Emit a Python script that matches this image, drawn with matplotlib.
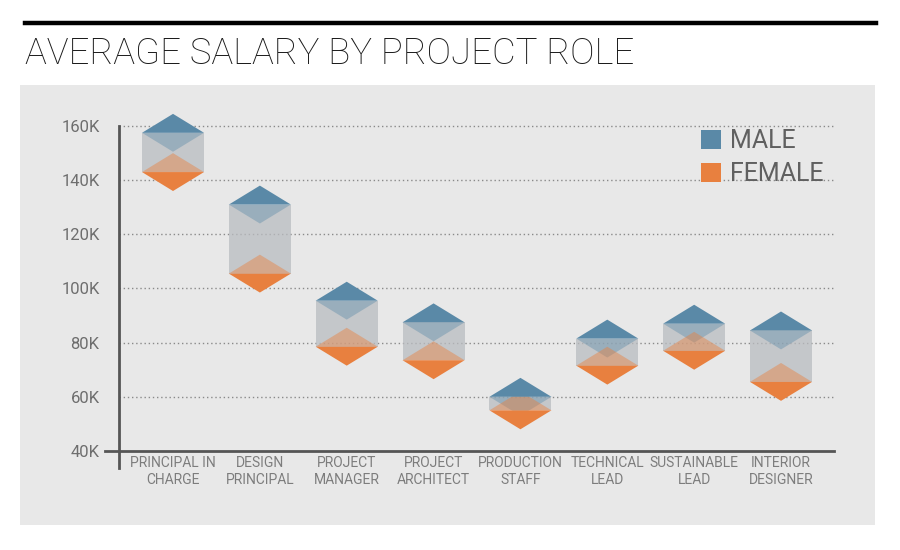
import matplotlib
matplotlib.use('Agg')
import matplotlib.pyplot as plt
from matplotlib.patches import Polygon, Rectangle, Patch
from matplotlib.lines import Line2D

roles = ['PRINCIPAL IN\nCHARGE', 'DESIGN\nPRINCIPAL', 'PROJECT\nMANAGER', 'PROJECT\nARCHITECT',
         'PRODUCTION\nSTAFF', 'TECHNICAL\nLEAD', 'SUSTAINABLE\nLEAD', 'INTERIOR\nDESIGNER']
male = [157.5, 131, 95.5, 87.5, 60, 81.5, 87, 84.5]
female = [143, 105.5, 78.5, 73.5, 55, 71.5, 77, 65.5]
yticks = [40, 60, 80, 100, 120, 140, 160]

blue = '#5a89a7'
orange = '#e8803f'
grey = '#b9bcc0'
font = ['Roboto', 'DejaVu Sans']

fig = plt.figure(figsize=(9, 5.5), dpi=100)
fig.patches.append(Rectangle((20/900, 1-525/550), 855/900, 440/550, transform=fig.transFigure,
                             facecolor='#e8e8e8', edgecolor='none', zorder=-5))
fig.lines.append(Line2D([25/900, 876/900], [1-23/550, 1-23/550], transform=fig.transFigure,
                        color='black', linewidth=3.2))
fig.text(25/900, 1-64/550, 'AVERAGE SALARY BY PROJECT ROLE', family=font, weight='light',
         fontsize=26.3, color='#1a1a1a', ha='left', va='baseline')

ax = fig.add_axes([105/900, 1-468/550, 729/900, 355.5/550])
ax.patch.set_alpha(0)
ax.set_xlim(-0.783, 7.61)
ax.set_ylim(33.7, 165)

# each role: blue diamond at male value, orange diamond at female value, grey box between
w = 0.357
h = 7
for i, (m, f) in enumerate(zip(male, female)):
    ax.add_patch(Rectangle((i - w, f), 2*w, m - f, facecolor=grey, alpha=0.75, edgecolor='none', zorder=3))
    ax.add_patch(Polygon([(i - w, m), (i + w, m), (i, m - h)], facecolor=blue, alpha=0.4, edgecolor='none', zorder=4))
    ax.add_patch(Polygon([(i - w, f), (i + w, f), (i, f + h)], facecolor=orange, alpha=0.45, edgecolor='none', zorder=4))
    ax.add_patch(Polygon([(i - w, m), (i + w, m), (i, m + h)], facecolor=blue, edgecolor='none', zorder=5, clip_on=False))
    ax.add_patch(Polygon([(i - w, f), (i + w, f), (i, f - h)], facecolor=orange, edgecolor='none', zorder=5))

ax.hlines(yticks[1:], -0.622, 7.61, colors='#8a8a8a', linestyles=(0, (1, 2)), linewidth=1, zorder=1)

for s in ['top', 'right']:
    ax.spines[s].set_visible(False)
ax.spines['left'].set_position(('data', -0.622))
ax.spines['left'].set_bounds(33.7, 160)
ax.spines['bottom'].set_position(('data', 40))
for s in ['left', 'bottom']:
    ax.spines[s].set_color('#555555')
    ax.spines[s].set_linewidth(2)

ax.set_yticks(yticks)
ax.set_yticklabels([f'{v}K' for v in yticks], family=font, fontsize=12, color='#6e6e6e')
ax.set_xticks(range(len(roles)))
ax.set_xticklabels(roles, family=font, fontsize=10, color='#7d7d7d', linespacing=1.25)
ax.tick_params(axis='y', length=0, pad=14)
ax.tick_params(axis='x', length=0, pad=4)

handles = [Patch(facecolor=blue, label='MALE'), Patch(facecolor=orange, label='FEMALE')]
fig.legend(handles=handles, loc='upper left', bbox_to_anchor=(688/900, 1-117/550), frameon=False,
           prop={'family': font, 'size': 18}, labelcolor='#606060', handlelength=0.8,
           handleheight=0.8, handletextpad=0.4, labelspacing=0.35, borderpad=0)

fig.savefig('out.png', dpi=100)
